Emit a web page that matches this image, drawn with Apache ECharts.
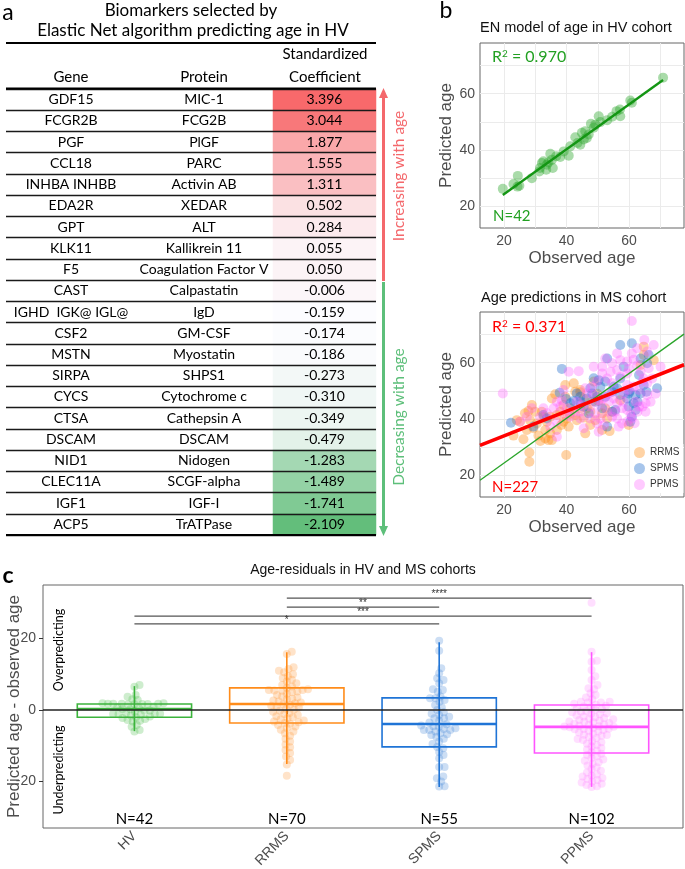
<!DOCTYPE html>
<html><head><meta charset="utf-8">
<script src="https://cdn.jsdelivr.net/npm/echarts@6/dist/echarts.min.js"></script>
<style>html,body{margin:0;padding:0;background:#fff}#c{width:685px;height:869px}</style>
</head><body><div id="c"></div><script>
// ---------------- DATA ----------------
const genes = ['GDF15','FCGR2B','PGF','CCL18','INHBA INHBB','EDA2R','GPT','KLK11','F5','CAST','IGHD  IGK@ IGL@','CSF2','MSTN','SIRPA','CYCS','CTSA','DSCAM','NID1','CLEC11A','IGF1','ACP5'];
const proteins = ['MIC-1','FCG2B','PlGF','PARC','Activin AB','XEDAR','ALT','Kallikrein 11','Coagulation Factor V','Calpastatin','IgD','GM-CSF','Myostatin','SHPS1','Cytochrome c','Cathepsin A','DSCAM','Nidogen','SCGF-alpha','IGF-I','TrATPase'];
const coefs = [3.396,3.044,1.877,1.555,1.311,0.502,0.284,0.055,0.050,-0.006,-0.159,-0.174,-0.186,-0.273,-0.310,-0.349,-0.479,-1.283,-1.489,-1.741,-2.109];

const hvObs  = [19.6,23.0,24.4,24.3,28.9,31.3,32.1,32.6,33.7,34.8,35.3,35.6,33.5,36.7,38.0,40.7,42.8,43.5,44.4,44.9,46.0,46.5,47.8,47.1,49.2,50.3,50.8,53.0,54.6,56.0,57.1,57.2,60.4,60.9,70.9,48.7,45.5,39.1,31.5,34.2,24.9,41.2];
const hvPred = [26.2,27.9,30.8,27.0,30.0,32.4,35.4,36.0,34.8,38.7,36.5,33.6,33.0,37.8,37.5,38.0,44.5,42.5,41.9,46.1,46.7,44.3,49.3,45.5,49.0,52.0,49.9,50.6,51.8,53.8,54.4,52.0,57.6,56.8,65.7,47.9,43.7,39.5,33.6,35.6,27.3,41.3];
// fitted lines as drawn in the figure: [intercept, slope]
const hvLine = [8.46, 0.795];
const msLine = [25.2, 0.439];

const rrmsPts = [[28.1,24.8],[28.1,28.1],[39.9,27.2],[23.0,34.1],[26.2,32.8],[27.3,36.1],[28.9,45.0],[27.8,42.8],[28.3,39.6],[29.4,36.7],
[30.5,38.4],[32.1,42.6],[32.6,40.8],[33.7,39.0],[34.2,32.5],[35.3,32.5],[33.2,33.1],[31.0,34.1],[36.9,36.1],[36.9,41.4],
[38.0,42.6],[39.0,45.0],[39.6,47.9],[40.1,40.2],[41.2,43.8],[42.3,52.7],[42.8,49.7],[43.3,39.6],[44.4,50.3],[44.4,43.8],
[45.5,40.5],[46.0,34.9],[46.5,43.8],[47.6,42.6],[48.2,46.1],[49.2,39.6],[50.3,46.4],[51.4,42.0],[52.4,43.8],[53.0,40.2],
[53.8,35.7],[49.8,49.0],[54.6,42.6],[48.7,53.3],[35.3,47.3],[36.4,48.8],[44.4,49.5],[25.1,39.0],[24.1,39.6],[26.7,42.0],
[29.9,42.6],[34.8,40.8],[39.0,39.0],[40.7,37.3],[41.0,41.8],[42.8,41.4],[38.3,37.9],[31.6,32.2],[33.2,36.1],[34.8,34.9],
[64.7,65.7],[64.7,62.7],[67.9,60.9],[63.7,59.2],[59.9,37.9],[57.2,46.7],[51.4,36.1],[47.6,37.9],[45.5,47.3],[39.6,52.1]];
const spmsPts = [[22.2,38.7],[38.5,57.8],[37.8,49.3],[39.9,47.1],[42.3,46.4],[43.3,49.1],[49.2,46.1],[52.4,53.3],[53.0,37.3],[53.0,61.5],
[54.6,42.6],[57.2,66.3],[60.9,66.9],[63.7,61.5],[65.8,59.8],[66.3,62.7],[69.0,50.9],[64.7,52.1],[63.7,49.1],[62.1,48.5],
[59.4,47.3],[59.9,49.1],[60.4,39.0],[60.9,40.8],[62.1,43.2],[55.1,51.5],[56.2,50.9],[48.7,54.5],[50.3,53.8],[47.6,50.9],
[48.2,49.1],[46.5,47.3],[45.5,44.4],[41.2,45.6],[33.7,40.2],[32.6,41.4],[29.4,37.3],[49.8,47.9],[54.6,49.7],[55.6,43.2],
[57.2,48.5],[62.7,46.1],[63.2,55.6],[58.3,58.6],[50.8,51.4],[44.4,46.1],[47.1,42.0],[61.5,45.6],[59.9,44.4],[52.4,47.9],
[44.4,47.9],[51.4,43.8],[57.2,54.4],[65.6,49.7],[60.2,49.8]];
const ppmsPts = [[19.6,49.1],[25.1,39.0],[28.9,43.8],[40.7,56.8],[43.9,57.0],[38.5,46.7],[38.0,44.4],[36.9,33.7],[34.8,37.3],[60.9,74.8],
[64.9,68.1],[67.9,66.3],[62.6,65.1],[56.2,63.3],[59.4,60.4],[61.5,61.0],[54.6,59.8],[52.4,61.5],[51.4,58.6],[56.2,57.4],
[59.4,56.2],[57.2,55.0],[53.0,54.4],[54.6,52.7],[49.8,53.3],[48.2,51.5],[46.0,50.9],[46.5,49.1],[48.7,48.5],[50.3,46.7],
[51.9,47.3],[53.5,46.1],[55.1,47.3],[56.2,45.6],[58.3,46.1],[59.9,50.3],[61.5,51.5],[63.2,50.3],[64.7,54.4],[65.8,48.5],
[66.9,46.1],[65.3,45.6],[64.3,44.4],[62.7,42.6],[65.3,42.6],[60.9,40.2],[59.4,39.0],[57.8,38.4],[56.2,40.2],[54.6,40.8],
[53.0,42.6],[50.8,40.2],[49.2,42.0],[49.8,38.4],[47.6,40.2],[45.5,36.7],[50.3,35.5],[40.1,43.8],[42.3,42.6],[43.3,46.1],
[44.9,45.0],[44.4,42.6],[36.9,46.1],[35.9,43.8],[31.6,40.8],[33.7,42.0],[27.3,40.8],[36.9,39.0],[39.6,41.4],[58.3,49.1],
[63.7,56.8],[66.3,58.0],[67.4,54.4],[65.8,64.0],[62.6,59.0],[59.9,57.8],[53.5,49.1],[50.8,45.0],[47.6,44.4],[55.6,42.6],
[57.8,43.8],[59.4,43.2],[62.1,46.1],[63.2,44.4],[59.4,52.1],[57.2,60.9],[60.9,63.3],[64.3,53.3],[65.8,52.7],[54.1,56.8],
[51.4,56.2],[48.7,58.6],[56.7,37.3],[44.4,40.2],[41.2,40.8],[32.6,43.8],[39.0,50.3],[70.1,58.6],[68.5,49.0],[60.5,41.5],
[52.0,37.8],[61.8,38.5]];

const groups = ['HV','RRMS','SPMS','PPMS'];
const groupN = ['N=42','N=70','N=55','N=102'];
const resHV = [7.0,6.5,4.2,3.7,3.0,2.8,1.9,1.8,1.8,1.7,1.8,1.6,1.9,1.7,1.8,1.6,1.0,0.8,0.5,0.3,0.2,-0.1,-0.2,-0.5,-0.8,-1.1,-1.2,-1.0,-1.3,-1.1,-1.5,-1.8,-2.0,-2.2,-2.5,-2.8,-3.0,-3.2,-4.2,-4.7,-5.6,-6.0];
const resRRMS = [16.3,15.7,12.0,11.5,11.0,10.6,10.0,9.5,9.0,8.5,8.0,7.5,7.0,6.6,6.2,5.8,5.6,5.6,5.5,5.4,5.2,5.0,4.6,4.2,3.8,3.5,3.2,3.0,2.7,2.4,2.1,1.9,1.7,1.5,1.2,1.0,0.7,0.4,0.1,-0.2,-0.5,-0.8,-1.1,-1.4,-1.7,-2.0,-2.3,-2.6,-2.9,-3.2,-3.4,-3.6,-3.8,-4.2,-4.6,-5.0,-5.5,-6.0,-6.5,-7.2,-8.0,-8.8,-9.6,-10.4,-11.2,-12.0,-13.0,-14.0,-15.2,-18.4];
const resSPMS = [19.4,16.6,11.7,10.3,8.9,8.4,7.5,5.8,5.6,5.1,3.8,3.3,3.3,2.8,2.3,1.4,0.8,0,-0.6,-1.0,-1.4,-1.9,-2.3,-2.3,-3.0,-3.5,-4.0,-4.3,-4.7,-5.1,-5.3,-5.6,-5.6,-5.6,-6.0,-6.5,-6.8,-7.0,-7.5,-8.0,-8.8,-9.5,-10.3,-10.7,-11.7,-12.6,-13.5,-15.9,-15.9,-18.6,-19.1,-20.0,-21.3,-21.4,-4.5];
const resPPMS = [30.0,16.3,13.8,13.5,11.2,9.5,8.4,7.0,6.1,5.8,4.7,4.2,3.5,3.0,2.3,2.3,2.1,2.1,1.8,1.5,1.2,1.0,0.8,0.5,0.2,0.0,-0.3,-0.6,-0.9,-1.2,-1.5,-1.8,-2.0,-2.2,-2.4,-2.6,-2.8,-3.0,-3.2,-3.4,-3.6,-3.8,-4.0,-4.2,-4.4,-4.5,-4.6,-4.7,-4.8,-5.0,-5.2,-5.4,-5.6,-5.8,-6.0,-6.3,-6.6,-6.9,-7.2,-7.5,-7.8,-8.1,-8.4,-8.7,-9.0,-9.4,-9.8,-10.2,-10.6,-11.0,-11.4,-11.8,-12.2,-12.6,-13.0,-13.4,-13.8,-14.2,-14.6,-15.0,-15.5,-16.0,-16.5,-17.0,-17.5,-18.0,-18.3,-18.6,-19.0,-19.3,-19.6,-20.0,-20.3,-20.6,-21.0,-21.3,-21.5,-1.0,-3.3,-5.3,-7.0,-0.5];
// box stats: [lower whisker, Q1, median, Q3, upper whisker]
const boxHV   = [-5.9,-2.0,0.3,1.7,6.7];
const boxRRMS = [-15.1,-3.6,1.7,6.2,16.2];
const boxSPMS = [-21.5,-10.3,-3.9,3.4,19.0];
const boxPPMS = [-21.5,-12.0,-4.7,1.4,16.2];
// significance comparisons
const sigFrom = [2,2,1,1];
const sigTo   = [4,3,4,3];
const sigY    = [31.3,28.8,26.3,24.1];
const sigLab  = ['****','**','***','*'];

// ---------------- HELPERS ----------------
const FONT_A = 'Lato';
const FONT_G = 'Liberation Sans';
const sorted = coefs.slice().sort((a,b)=>a-b);
const cMid = sorted[Math.floor(sorted.length/2)], cMin = sorted[0], cMax = sorted[sorted.length-1];
function mix(c1,c2,t){return 'rgb('+c1.map((v,i)=>Math.round(v+(c2[i]-v)*t)).join(',')+')';}
function coefColor(v){
  const W=[252,252,255], R=[248,105,107], G=[99,190,123];
  return v>=cMid ? mix(W,R,(v-cMid)/(cMax-cMid)) : mix(W,G,(cMid-v)/(cMid-cMin));
}
const C_GRID = {left:43, top:585, width:640, height:243};
const X_MIN=0.4, X_MAX=4.6, Y_MIN=-33, Y_MAX=35;
const kx = C_GRID.width/(X_MAX-X_MIN), ky = C_GRID.height/(Y_MAX-Y_MIN);
function swarm(vals, d){
  const idx = vals.map((v,i)=>i).sort((a,b)=>vals[a]-vals[b]);
  const placed=[]; const off=new Array(vals.length).fill(0);
  for(const i of idx){
    const y=vals[i]*ky; const cands=[0];
    for(const p of placed){const dy=Math.abs(p.y-y); if(dy<d){const dx=Math.sqrt(d*d-dy*dy); cands.push(p.x+dx,p.x-dx);}}
    cands.sort((a,b)=>Math.abs(a)-Math.abs(b)||b-a);
    let best=0;
    for(const c of cands){ if(placed.every(p=>(p.x-c)*(p.x-c)+(p.y-y)*(p.y-y)>=d*d-1e-6)){best=c;break;} }
    placed.push({x:best,y}); off[i]=best;
  }
  return off.map(o=>o/kx);
}
const B_XMIN=12.3, B_XMAX=77.6, B_YMIN=12.3, B_YMAX=78;
const hvMin = Math.min(...hvObs), hvMax = Math.max(...hvObs);
const lineAt = (l,x)=>[x, l[0]+l[1]*x];
const rowIdx = genes.map((g,i)=>String(i));

// ---------------- CHART ----------------
const chart = echarts.init(document.getElementById('c'), null, {renderer:'canvas'});
const gridAxisB = (gi, name) => ({
  gridIndex: gi, type:'value', min:B_XMIN, max:B_XMAX, position:'bottom',
  axisLine:{show:false}, axisTick:{show:false, customValues:[20,30,40,50,60,70]},
  axisLabel:{customValues:[20,40,60], color:'#4d4d4d', fontSize:14, margin:6, fontFamily:FONT_G},
  splitLine:{show:true, lineStyle:{color:'#ebebeb', width:1}},
  name, nameLocation:'middle', nameGap:22, nameMoveOverlap:false, nameTextStyle:{fontSize:17, color:'#4d4d4d', fontFamily:FONT_G}
});
const gridAxisBY = (gi, name) => ({
  gridIndex: gi, type:'value', min:B_YMIN, max:B_YMAX, position:'left',
  axisLine:{show:false}, axisTick:{show:false, customValues:[20,30,40,50,60,70]},
  axisLabel:{customValues:[20,40,60], color:'#4d4d4d', fontSize:14, margin:5, fontFamily:FONT_G},
  splitLine:{show:true, lineStyle:{color:'#ebebeb', width:1}},
  name, nameLocation:'middle', nameGap:25, nameMoveOverlap:false, nameTextStyle:{fontSize:17, color:'#4d4d4d', fontFamily:FONT_G}
});

const boxColors = ['#3cb43c','#ff8c1a','#1f74d6','#ff55ff'];
const dotColors = ['rgba(70,185,70,0.33)','rgba(255,150,50,0.33)','rgba(60,130,215,0.33)','rgba(255,110,255,0.28)'];
const resAll = [resHV,resRRMS,resSPMS,resPPMS];
const boxAll = [boxHV,boxRRMS,boxSPMS,boxPPMS];

const swarmSeries = resAll.map((vals,g)=>{
  const off = swarm(vals, 5.4);
  return {type:'scatter', xAxisIndex:4, yAxisIndex:5, symbolSize:8, z:2,
    itemStyle:{color:dotColors[g]}, silent:true,
    data: vals.map((v,i)=>[g+1+off[i], v])};
});
const G = (o)=>Object.assign({outerBoundsMode:'none', containLabel:false}, o);

const option = {
  animation:false,
  textStyle:{fontFamily:FONT_G},
  grid:[
    G({left:273, top:89, width:103, height:446}),
    G({left:6, top:89, width:370, height:446}),
    G({left:480, top:43, width:204, height:185, show:true, borderColor:'#666', borderWidth:1}),
    G({left:480, top:312, width:204, height:185, show:true, borderColor:'#666', borderWidth:1}),
    G({left:C_GRID.left, top:C_GRID.top, width:C_GRID.width, height:C_GRID.height, show:true, borderColor:'#666', borderWidth:1})
  ],
  xAxis:[
    {gridIndex:0, type:'category', data:['c'], show:false},
    {gridIndex:1, type:'category', data:['c'], show:false},
    gridAxisB(2,'Observed age'),
    gridAxisB(3,'Observed age'),
    {gridIndex:4, type:'value', min:X_MIN, max:X_MAX, position:'bottom', axisLine:{show:false},
     axisTick:{show:true, customValues:[1,2,3,4], length:4, lineStyle:{color:'#333'}},
     axisLabel:{customValues:[1,2,3,4], formatter:v=>groups[Math.round(v)-1], rotate:45, color:'#4d4d4d', fontSize:14, margin:6},
     splitLine:{show:false}}
  ],
  yAxis:[
    {gridIndex:0, type:'category', position:'left', offset:0, data:rowIdx, inverse:true, axisLine:{show:false}, axisTick:{show:false},
     axisLabel:{interval:0, margin:202, align:'center', formatter:v=>genes[+v], color:'#000', fontSize:14, fontFamily:FONT_A}},
    {gridIndex:0, type:'category', position:'left', offset:0, data:rowIdx, inverse:true, axisLine:{show:false}, axisTick:{show:false},
     axisLabel:{interval:0, margin:69, align:'center', formatter:v=>proteins[+v], color:'#000', fontSize:14, fontFamily:FONT_A}},
    {gridIndex:1, type:'category', position:'left', data:rowIdx, inverse:true, axisLine:{show:false}, axisTick:{show:false}, axisLabel:{show:false},
     splitLine:{show:true, interval:0, lineStyle:{color:'#1a1a1a', width:1.3}}, z:5},
    gridAxisBY(2,'Predicted age'),
    gridAxisBY(3,'Predicted age'),
    {gridIndex:4, type:'value', min:Y_MIN, max:Y_MAX, position:'left', axisLine:{show:false},
     axisTick:{show:true, customValues:[-20,0,20], length:4, lineStyle:{color:'#333'}},
     axisLabel:{customValues:[-20,0,20], color:'#4d4d4d', fontSize:14, margin:7},
     splitLine:{show:false},
     name:'Predicted age - observed age', nameLocation:'middle', nameGap:20, nameMoveOverlap:false, nameTextStyle:{fontSize:17, color:'#4d4d4d'}}
  ],
  legend:{data:['RRMS','SPMS','PPMS'], orient:'vertical', left:630, top:444, itemWidth:11, itemHeight:11, itemGap:5,
    icon:'circle', padding:[3,4], backgroundColor:'#fff', textStyle:{fontSize:10, color:'#333'}},
  series:[
    {type:'heatmap', xAxisIndex:0, yAxisIndex:0, z:1,
     data: coefs.map((v,i)=>({value:[0,i,v], itemStyle:{color:coefColor(v)}})),
     label:{show:true, formatter:p=>coefs[p.dataIndex].toFixed(3), color:'#000', fontSize:14, fontFamily:FONT_A}},
    {type:'scatter', xAxisIndex:1, yAxisIndex:2, data:[]},
    {type:'scatter', xAxisIndex:2, yAxisIndex:3, symbolSize:10, itemStyle:{color:'rgba(40,165,40,0.5)'},
     data: hvObs.map((x,i)=>[x,hvPred[i]]), z:2},
    {type:'line', xAxisIndex:2, yAxisIndex:3, symbol:'none', z:3, lineStyle:{color:'#149614', width:2.4},
     data:[lineAt(hvLine,hvMin), lineAt(hvLine,hvMax)]},
    {name:'RRMS', type:'scatter', xAxisIndex:3, yAxisIndex:4, symbolSize:10, itemStyle:{color:'rgba(255,145,30,0.5)'}, data:rrmsPts, z:2},
    {name:'SPMS', type:'scatter', xAxisIndex:3, yAxisIndex:4, symbolSize:10, itemStyle:{color:'rgba(35,110,205,0.5)'}, data:spmsPts, z:2},
    {name:'PPMS', type:'scatter', xAxisIndex:3, yAxisIndex:4, symbolSize:10, itemStyle:{color:'rgba(255,90,255,0.4)'}, data:ppmsPts, z:2},
    {type:'line', xAxisIndex:3, yAxisIndex:4, symbol:'none', z:3, lineStyle:{color:'#2aa52a', width:1.3},
     data:[lineAt(hvLine,B_XMIN), lineAt(hvLine,B_XMAX)]},
    {type:'line', xAxisIndex:3, yAxisIndex:4, symbol:'none', z:3, lineStyle:{color:'#ff0000', width:3.5},
     data:[lineAt(msLine,B_XMIN), lineAt(msLine,B_XMAX)]},
    ...swarmSeries,
    {type:'custom', xAxisIndex:4, yAxisIndex:5, z:3, silent:true,
     data: boxAll.map((b,i)=>[i+1].concat(b)),
     encode:{x:0, y:[1,2,3,4,5]},
     renderItem:(params, api)=>{
       const i=api.value(0), lo=api.value(1), q1=api.value(2), md=api.value(3), q3=api.value(4), hi=api.value(5);
       const c=boxColors[params.dataIndex];
       const tl=api.coord([i-0.375,q3]), br=api.coord([i+0.375,q1]);
       const t=api.coord([i,hi]), b=api.coord([i,lo]);
       const ml=api.coord([i-0.375,md]), mr=api.coord([i+0.375,md]);
       return {type:'group', children:[
         {type:'line', shape:{x1:t[0],y1:t[1],x2:b[0],y2:b[1]}, style:{stroke:c, lineWidth:1.6}},
         {type:'rect', shape:{x:tl[0],y:tl[1],width:br[0]-tl[0],height:br[1]-tl[1]}, style:{fill:null, stroke:c, lineWidth:1.6}},
         {type:'line', shape:{x1:ml[0],y1:ml[1],x2:mr[0],y2:mr[1]}, style:{stroke:c, lineWidth:2.6}}
       ]};
     }},
    {type:'line', xAxisIndex:4, yAxisIndex:5, symbol:'none', z:4, silent:true, lineStyle:{color:'#222', width:1.4},
     data:[[X_MIN,0],[X_MAX,0]]},
    {type:'custom', xAxisIndex:4, yAxisIndex:5, z:4, silent:true,
     data: sigFrom.map((f,i)=>[f, sigTo[i], sigY[i]]),
     encode:{x:[0,1], y:2},
     renderItem:(params, api)=>{
       const p1=api.coord([api.value(0),api.value(2)]), p2=api.coord([api.value(1),api.value(2)]);
       return {type:'group', children:[
         {type:'line', shape:{x1:p1[0],y1:p1[1],x2:p2[0],y2:p2[1]}, style:{stroke:'#555', lineWidth:1.2}},
         {type:'text', x:(p1[0]+p2[0])/2, y:p1[1]+1, style:{text:sigLab[params.dataIndex], align:'center', verticalAlign:'bottom', fontSize:10, fill:'#333', fontFamily:FONT_G}}
       ]};
     }},
    {type:'custom', xAxisIndex:4, yAxisIndex:5, z:4, silent:true,
     data: groupN.map((n,i)=>[i+1,-30.4]),
     encode:{x:0, y:1},
     renderItem:(params, api)=>{
       const p=api.coord([api.value(0),api.value(1)]);
       return {type:'text', x:p[0], y:p[1], style:{text:groupN[params.dataIndex], align:'center', verticalAlign:'middle', fontSize:15, fill:'#000', fontFamily:FONT_A}};
     }}
  ],
  graphic:[
    {type:'text', x:8, y:13, style:{text:'a', fontSize:23, fontFamily:FONT_A, fill:'#000', align:'center', verticalAlign:'middle'}},
    {type:'text', x:446, y:11, style:{text:'b', fontSize:23, fontFamily:FONT_A, fill:'#000', align:'center', verticalAlign:'middle'}},
    {type:'text', x:8, y:576, style:{text:'c', fontSize:23, fontWeight:'bold', fontFamily:FONT_A, fill:'#000', align:'center', verticalAlign:'middle'}},
    {type:'text', x:191, y:11, style:{text:'Biomarkers selected by', fontSize:17, fontFamily:FONT_A, fill:'#000', align:'center', verticalAlign:'middle'}},
    {type:'text', x:193, y:31, style:{text:'Elastic Net algorithm predicting age in HV', fontSize:17, fontFamily:FONT_A, fill:'#000', align:'center', verticalAlign:'middle'}},
    {type:'line', shape:{x1:6,y1:43,x2:376,y2:43}, style:{stroke:'#000', lineWidth:2}},
    {type:'text', x:325, y:54, style:{text:'Standardized', fontSize:15, fontFamily:FONT_A, fill:'#000', align:'center', verticalAlign:'middle'}},
    {type:'text', x:325, y:77, style:{text:'Coefficient', fontSize:15, fontFamily:FONT_A, fill:'#000', align:'center', verticalAlign:'middle'}},
    {type:'text', x:71, y:77, style:{text:'Gene', fontSize:15, fontFamily:FONT_A, fill:'#000', align:'center', verticalAlign:'middle'}},
    {type:'text', x:204, y:77, style:{text:'Protein', fontSize:15, fontFamily:FONT_A, fill:'#000', align:'center', verticalAlign:'middle'}},
    {type:'line', shape:{x1:6,y1:88.5,x2:376,y2:88.5}, style:{stroke:'#000', lineWidth:2.2}, z:10},
    {type:'line', shape:{x1:6,y1:535,x2:376,y2:535}, style:{stroke:'#000', lineWidth:2}, z:10},
    {type:'line', shape:{x1:383.5,y1:96,x2:383.5,y2:281}, style:{stroke:'#f4686c', lineWidth:3}},
    {type:'polygon', shape:{points:[[379,98],[388,98],[383.5,88]]}, style:{fill:'#f4686c'}},
    {type:'line', shape:{x1:383.5,y1:282,x2:383.5,y2:527}, style:{stroke:'#5dbf7a', lineWidth:3}},
    {type:'polygon', shape:{points:[[379,526],[388,526],[383.5,536]]}, style:{fill:'#5dbf7a'}},
    {type:'text', x:399, y:176, rotation:Math.PI/2, style:{text:'Increasing with age', fontSize:15.5, fontFamily:FONT_A, fill:'#f4686c', align:'center', verticalAlign:'middle'}},
    {type:'text', x:399, y:417, rotation:Math.PI/2, style:{text:'Decreasing with age', fontSize:15.5, fontFamily:FONT_A, fill:'#5dbf7a', align:'center', verticalAlign:'middle'}},
    {type:'text', x:480, y:28, style:{text:'EN model of age in HV cohort', fontSize:14.5, fontFamily:FONT_G, fill:'#111', align:'left', verticalAlign:'middle'}},
    {type:'text', x:481, y:298, style:{text:'Age predictions in MS cohort', fontSize:14.5, fontFamily:FONT_G, fill:'#111', align:'left', verticalAlign:'middle'}},
    {type:'text', x:492, y:57, z:10, style:{rich:{b:{fontSize:16, fontFamily:FONT_A, fill:'#22a022'}, s:{fontSize:10, fontFamily:FONT_A, fill:'#22a022', padding:[0,0,7,0]}}, text:'{b|R}{s|2}{b| = 0.970}', verticalAlign:'middle'}},
    {type:'text', x:493, y:216, z:10, style:{text:'N=42', fontSize:15, fontFamily:FONT_A, fill:'#22a022', verticalAlign:'middle'}},
    {type:'text', x:492, y:327, z:10, style:{rich:{b:{fontSize:16, fontFamily:FONT_A, fill:'#ff0000'}, s:{fontSize:10, fontFamily:FONT_A, fill:'#ff0000', padding:[0,0,7,0]}}, text:'{b|R}{s|2}{b| = 0.371}', verticalAlign:'middle'}},
    {type:'text', x:492, y:487, z:10, style:{text:'N=227', fontSize:15, fontFamily:FONT_A, fill:'#ff0000', verticalAlign:'middle'}},
    {type:'text', x:363, y:570, style:{text:'Age-residuals in HV and MS cohorts', fontSize:14, fontFamily:FONT_G, fill:'#111', align:'center', verticalAlign:'middle'}},
    {type:'text', x:59, y:650, rotation:Math.PI/2, z:10, style:{text:'Overpredicting', fontSize:12.5, fontFamily:FONT_A, fill:'#000', align:'center', verticalAlign:'middle'}},
    {type:'text', x:59, y:770, rotation:Math.PI/2, z:10, style:{text:'Underpredicting', fontSize:12.5, fontFamily:FONT_A, fill:'#000', align:'center', verticalAlign:'middle'}}
  ]
};
chart.setOption(option);
</script></body></html>
